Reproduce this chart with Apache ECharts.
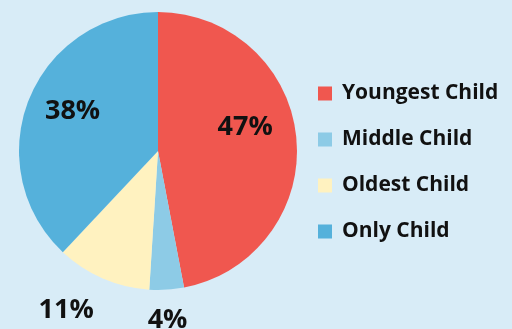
<!DOCTYPE html>
<html><head><meta charset="utf-8">
<script src="https://cdn.jsdelivr.net/npm/echarts@6/dist/echarts.min.js"></script>
<style>html,body{margin:0;padding:0;background:#D8ECF7;}#c{width:512px;height:329px;}</style>
</head><body><div id="c"></div>
<script>
const categories = ['Youngest Child', 'Middle Child', 'Oldest Child', 'Only Child'];
const values = [47, 4, 11, 38];
const colors = ['#F0574F', '#8DCBE6', '#FFF2C0', '#55B1DB'];
const labelShift = [[15, -17], [5, 97], [-63, 93], [-18, -13]];

const chart = echarts.init(document.getElementById('c'), null, {renderer: 'canvas'});
chart.setOption({
  backgroundColor: '#D8ECF7',
  animation: false,
  legend: {
    orient: 'vertical',
    left: 318, top: 83,
    padding: 0,
    itemWidth: 14, itemHeight: 14,
    itemGap: 25,
    icon: 'rect',
    data: categories,
    textStyle: {fontFamily: 'Open Sans', fontWeight: 'bold', fontSize: 21, color: '#111', lineHeight: 20, padding: [0, 0, 0, 5]}
  },
  series: [{
    type: 'pie',
    center: [158, 151],
    radius: [0, 139],
    startAngle: 90,
    clockwise: true,
    data: categories.map((c, i) => ({name: c, value: values[i], itemStyle: {color: colors[i]}})),
    label: {
      show: true, position: 'inside',
      formatter: '{c}%',
      fontFamily: 'Open Sans', fontWeight: 'bold', fontSize: 27, color: '#111'
    },
    labelLine: {show: false},
    labelLayout: function (p) {
      return {dx: labelShift[p.dataIndex][0], dy: labelShift[p.dataIndex][1]};
    },
    emphasis: {disabled: true}
  }]
});
</script></body></html>
